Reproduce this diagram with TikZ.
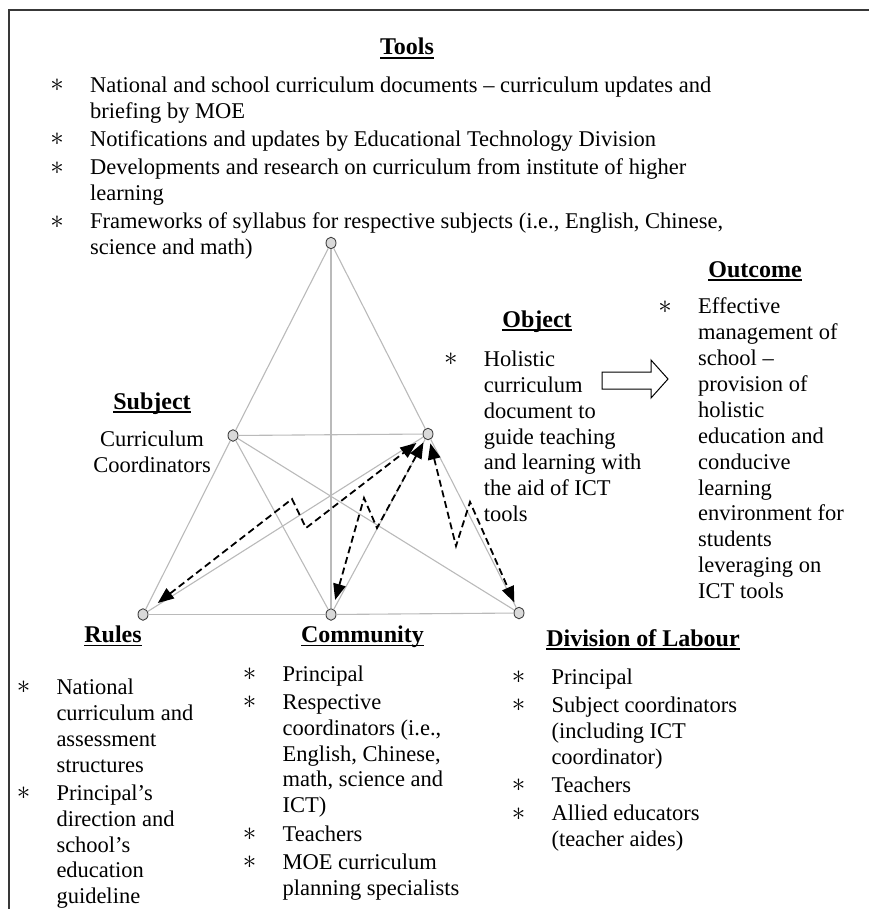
\documentclass[tikz,border=0pt]{standalone}
\usepackage{fontspec}
\setmainfont{Liberation Serif}
\usetikzlibrary{arrows.meta,shapes.geometric}

\definecolor{edgegray}{HTML}{BABABA}
\definecolor{vertfill}{HTML}{D9D9D9}
\definecolor{vertline}{HTML}{404040}
\definecolor{framegray}{HTML}{383838}

% bold heading with a Word-style underline
\newcommand\headtxt[1]{\setbox0\hbox{\bfseries #1}\rlap{\rule[-3.8pt]{\wd0}{1.8pt}}\box0}
% list marker: centred on the node's reference point, text starts 33pt further right
\newcommand\starmark{\makebox[33pt][l]{\makebox[0pt]{\raisebox{0.6pt}{\scalebox{1.3}{$\ast$}}}}}

\tikzset{
  listtext/.style={anchor=base west, inner sep=0pt, font=\fontsize{22.5}{25.9}\selectfont},
  plaintext/.style={anchor=base, inner sep=0pt, font=\fontsize{22.5}{26.5}\selectfont},
  headtext/.style={anchor=base, inner sep=0pt, font=\fontsize{24}{28}\selectfont},
  vertex/.style={ellipse, draw=vertline, fill=vertfill, line width=0.9pt,
    minimum width=10pt, minimum height=11.5pt, inner sep=0pt},
  triedge/.style={draw=edgegray, line width=1.1pt},
  flowarrow/.style={draw=black, line width=1.8pt, dash pattern=on 7pt off 4pt,
    line join=miter,
    {Triangle[length=16pt,width=12.5pt]}-{Triangle[length=16pt,width=12.5pt]}},
  framerule/.style={draw=framegray, line width=1.7pt, line join=miter},
}

\begin{document}
\begin{tikzpicture}[x=1pt,y=-1pt]
\useasboundingbox (0,0) rectangle (869,909);

% open frame: top and left rules
\draw[framerule] (9,909) -- (9,10) -- (869,10);

% ---------- activity triangle ----------
\node[vertex] (apex) at (331,243) {};
\node[vertex] (subj) at (233,435.5) {};
\node[vertex] (obj)  at (428,434) {};
\node[vertex] (rules) at (143,614.5) {};
\node[vertex] (comm) at (331,614.5) {};
\node[vertex] (divn) at (519,613) {};

\draw[triedge] (apex) -- (subj);
\draw[triedge] (subj) -- (rules);
\draw[triedge] (apex) -- (obj);
\draw[triedge] (obj) -- (divn);
\draw[triedge] (apex) -- (comm);
\draw[triedge] (rules) -- (comm);
\draw[triedge] (comm) -- (divn);
\draw[triedge] (subj) -- (obj);
\draw[triedge] (subj) -- (comm);
\draw[triedge] (subj) -- (divn);
\draw[triedge] (obj) -- (rules);
\draw[triedge] (obj) -- (comm);

% zigzag (contradiction) arrows between the object and the lower corners
\coordinate (za1) at (292,499);
\coordinate (za2) at (306,528);
\coordinate (zb1) at (364,498);
\coordinate (zb2) at (377,528);
\coordinate (zc1) at (456,546);
\coordinate (zc2) at (470,502);

\draw[flowarrow, shorten <=13pt, shorten >=9pt] (rules) -- (za1) -- (za2) -- (obj);
\draw[flowarrow, shorten <=9pt, shorten >=3.5pt] (comm) -- (zb1) -- (zb2) -- (obj);
\draw[flowarrow, shorten <=3.5pt, shorten >=5.5pt] (obj) -- (zc1) -- (zc2) -- (divn);

% ---------- Tools ----------
\node[headtext] (toolshead) at (407,55) {\headtxt{Tools}};
\node[listtext] (toolslist) at (57,92.5) {\begin{tabular}[t]{@{}l@{}l@{}}
\starmark & National and school curriculum documents – curriculum updates and\\
 & briefing by MOE\\[2.3pt]
\starmark & Notifications and updates by Educational Technology Division\\[2.3pt]
\starmark & Developments and research on curriculum from institute of higher\\
 & learning\\[2.3pt]
\starmark & Frameworks of syllabus for respective subjects (i.e., English, Chinese,\\
 & science and math)
\end{tabular}};

% ---------- Subject ----------
\node[headtext] (subjhead) at (152,409) {\headtxt{Subject}};
\node[plaintext] (subjtext) at (152,446) {\begin{tabular}[t]{@{}c@{}}
Curriculum\\ Coordinators
\end{tabular}};

% ---------- Object ----------
\node[headtext] (objhead) at (537,327) {\headtxt{Object}};
\node[listtext] (objlist) at (450.7,366.3) {\begin{tabular}[t]{@{}l@{}l@{}}
\starmark & Holistic\\
 & curriculum\\
 & document to\\
 & guide teaching\\
 & and learning with\\
 & the aid of ICT\\
 & tools
\end{tabular}};

% hollow block arrow from object to outcome
\draw[black, line width=1pt, line join=miter]
  (602,372) -- (651,372) -- (651,360) -- (668,379) -- (651,398) -- (651,389) -- (602,389) -- cycle;

% ---------- Outcome ----------
\node[headtext] (outhead) at (755,277) {\headtxt{Outcome}};
\node[listtext] (outlist) at (665,313.7) {\begin{tabular}[t]{@{}l@{}l@{}}
\starmark & Effective\\
 & management of\\
 & school –\\
 & provision of\\
 & holistic\\
 & education and\\
 & conducive\\
 & learning\\
 & environment for\\
 & students\\
 & leveraging on\\
 & ICT tools
\end{tabular}};

% ---------- Rules ----------
\node[headtext] (ruleshead) at (113,642.5) {\headtxt{Rules}};
\node[listtext] (ruleslist) at (23.3,694.3) {\begin{tabular}[t]{@{}l@{}l@{}}
\starmark & National\\
 & curriculum and\\
 & assessment\\
 & structures\\[2.3pt]
\starmark & Principal’s\\
 & direction and\\
 & school’s\\
 & education\\
 & guideline
\end{tabular}};

% ---------- Community ----------
\node[headtext] (commhead) at (362.5,642.5) {\headtxt{Community}};
\node[listtext] (commlist) at (249.4,681) {\begin{tabular}[t]{@{}l@{}l@{}}
\starmark & Principal\\[2.3pt]
\starmark & Respective\\
 & coordinators (i.e.,\\
 & English, Chinese,\\
 & math, science and\\
 & ICT)\\[2.3pt]
\starmark & Teachers\\[2.3pt]
\starmark & MOE curriculum\\
 & planning specialists
\end{tabular}};

% ---------- Division of Labour ----------
\node[headtext] (divhead) at (643,646) {\headtxt{Division of Labour}};
\node[listtext] (divlist) at (518.3,684.3) {\begin{tabular}[t]{@{}l@{}l@{}}
\starmark & Principal\\[2.3pt]
\starmark & Subject coordinators\\
 & (including ICT\\
 & coordinator)\\[2.3pt]
\starmark & Teachers\\[2.3pt]
\starmark & Allied educators\\
 & (teacher aides)
\end{tabular}};

\end{tikzpicture}
\end{document}
